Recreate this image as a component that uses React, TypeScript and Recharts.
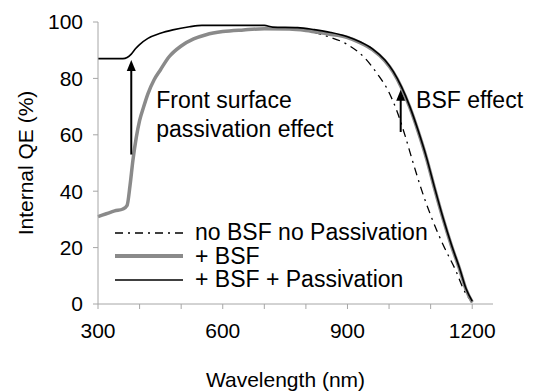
import React from "react";
import {
  LineChart,
  Line,
  XAxis,
  YAxis,
  ReferenceLine,
  ReferenceDot,
} from "recharts";

// wavelengths (nm) and internal QE (%)
const passivWl = [300, 360, 370, 380, 390, 400, 420, 450, 480, 520, 550, 700, 720, 780, 820, 860, 900, 930, 960, 990, 1010, 1030, 1050, 1070, 1090, 1110, 1130, 1150, 1170, 1185, 1200];
const passivQe = [87, 87, 87.4, 88.6, 90.5, 92, 94.2, 96, 97.2, 98.3, 98.8, 98.8, 98.2, 98, 97.3, 96.3, 94.8, 93, 90.5, 86.5, 82.5, 77, 70, 61.5, 52, 41, 30.5, 21, 12.5, 5.5, 1];

const bsfWl = [300, 320, 340, 360, 370, 377, 384, 392, 400, 410, 420, 435, 450, 470, 500, 530, 560, 600, 650, 700, 760, 800, 850, 900, 930, 960, 990, 1010, 1030, 1050, 1070, 1090, 1110, 1130, 1150, 1170, 1185, 1200];
const bsfQe = [31, 32, 33, 33.7, 35, 42, 51, 59, 65, 70, 74.5, 79.5, 83, 87.5, 91.5, 94, 95.5, 96.6, 97.2, 97.6, 97.5, 97, 95.8, 94.5, 92.7, 90.2, 86.2, 82.2, 76.7, 69.7, 61.2, 51.7, 40.7, 30.2, 20.7, 12.2, 5.2, 0.7];

const noBsfWl = [300, 320, 340, 360, 370, 377, 384, 392, 400, 410, 420, 435, 450, 470, 500, 530, 560, 600, 650, 700, 760, 800, 850, 900, 940, 970, 1000, 1020, 1040, 1055, 1077, 1100, 1130, 1160, 1180, 1200];
const noBsfQe = [31, 32, 33, 33.7, 35, 42, 51, 59, 65, 70, 74.5, 79.5, 83, 87.5, 91.5, 94, 95.5, 96.6, 97.2, 97.6, 97.5, 97, 95, 92, 87.5, 82, 75, 68, 59, 51.5, 41, 31.5, 21, 12, 5, 0.6];

const xTicks = [300, 400, 500, 600, 700, 800, 900, 1000, 1100, 1200];
const xLabelled = [300, 600, 900, 1200];
const yTicks = [0, 20, 40, 60, 80, 100];

const legendItems = [
  { name: "no BSF no Passivation", color: "#000", width: 1.3, dash: "8 5 2 5" },
  { name: "+ BSF", color: "#8a8a8a", width: 4, dash: undefined },
  { name: "+ BSF + Passivation", color: "#000", width: 1.6, dash: undefined },
];

const arrows = [
  { x: 380, from: 53, to: 86.5 },
  { x: 1028, from: 61, to: 76 },
];

const notes = [
  { x: 440, y: 69.5, lines: ["Front surface", "passivation effect"] },
  { x: 1065, y: 69.5, lines: ["BSF effect"] },
];

const zip = (wl: number[], qe: number[]) => wl.map((x, i) => ({ x, y: qe[i] }));

const font = "'Liberation Sans', Arial, sans-serif";
const axisGrey = "#a6a6a6";

function Arrow(props: any) {
  const { x1, y1, x2, y2 } = props;
  const top = Math.min(y1, y2);
  const bottom = Math.max(y1, y2);
  return (
    <g>
      <line x1={x1} y1={bottom} x2={x2} y2={top + 8} stroke="#000" strokeWidth={2} />
      <polygon points={`${x1},${top} ${x1 - 4.5},${top + 11} ${x1 + 4.5},${top + 11}`} fill="#000" />
    </g>
  );
}

function LegendBox() {
  return (
    <div style={{ position: "absolute", left: 114, top: 221, fontFamily: font, fontSize: 23, color: "#000", lineHeight: "23.5px" }}>
      {legendItems.map((it) => (
        <div key={it.name} style={{ display: "flex", alignItems: "center", height: 23.5, whiteSpace: "nowrap" }}>
          <svg width={70} height={12} style={{ marginRight: 11 }}>
            <line x1={1} y1={6} x2={69} y2={6} stroke={it.color} strokeWidth={it.width} strokeDasharray={it.dash} />
          </svg>
          <span>{it.name}</span>
        </div>
      ))}
    </div>
  );
}

export default function App() {
  return (
    <div style={{ position: "absolute", left: 0, top: 0, width: 544, height: 392, background: "#fff" }}>
      <LineChart width={544} height={392} margin={{ top: 22, right: 51, bottom: 0, left: 0 }}>
        <XAxis
          type="number"
          dataKey="x"
          domain={[300, 1250]}
          ticks={xTicks}
          tickFormatter={(v) => (xLabelled.includes(v) ? String(v) : "")}
          tickSize={5}
          tickMargin={14}
          height={88}
          stroke={axisGrey}
          tick={{ fill: "#000", fontSize: 21, fontFamily: font }}
          label={{ value: "Wavelength (nm)", position: "insideBottom", offset: 5, dx: -10, fill: "#000", fontSize: 21, fontFamily: font }}
        />
        <YAxis
          type="number"
          domain={[0, 100]}
          ticks={yTicks}
          width={98}
          tickSize={5}
          tickMargin={10}
          stroke={axisGrey}
          tick={{ fill: "#000", fontSize: 21, fontFamily: font }}
          label={{ value: "Internal QE (%)", angle: -90, position: "center", dx: -23, fill: "#000", fontSize: 21, fontFamily: font }}
        />
        <Line data={zip(noBsfWl, noBsfQe)} dataKey="y" stroke="#000" strokeWidth={1.3} strokeDasharray="8 5 2 5" dot={false} isAnimationActive={false} type="monotone" />
        <Line data={zip(bsfWl, bsfQe)} dataKey="y" stroke="#8a8a8a" strokeWidth={3.5} dot={false} isAnimationActive={false} type="monotone" />
        <Line data={zip(passivWl, passivQe)} dataKey="y" stroke="#000" strokeWidth={1.6} dot={false} isAnimationActive={false} type="monotone" />
        {arrows.map((a) => (
          <ReferenceLine
            key={a.x}
            segment={[{ x: a.x, y: a.from }, { x: a.x, y: a.to }]}
            shape={(p: any) => <Arrow {...p} />}
          />
        ))}
        {notes.map((n) => (
          <ReferenceDot
            key={n.x}
            x={n.x}
            y={n.y}
            r={0}
            shape={(p: any) => (
              <text x={p.cx} y={p.cy} fontFamily={font} fontSize={23} fill="#000">
                {n.lines.map((l, i) => (
                  <tspan key={l} x={p.cx} dy={i === 0 ? 0 : 29}>
                    {l}
                  </tspan>
                ))}
              </text>
            )}
          />
        ))}
      </LineChart>
      <LegendBox />
    </div>
  );
}
